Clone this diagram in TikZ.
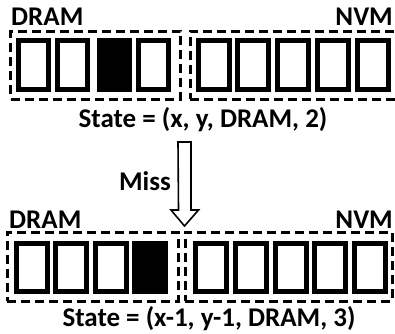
\documentclass[tikz,border=0pt]{standalone}
\usepackage{fontspec}
\setmainfont{Carlito}
\begin{document}
\begin{tikzpicture}[x=1pt,y=-1pt,
  cellbox/.style={draw=black,line width=5pt,minimum width=30pt,minimum height=49pt,inner sep=0pt,fill=white},
  fullcell/.style={cellbox,fill=black},
  membox/.style={draw=black,line width=3pt,dash pattern=on 9pt off 5pt,inner sep=0pt},
  lbl/.style={font=\bfseries\fontsize{27}{32}\selectfont,inner sep=0pt},
  hollowarrow/.style={draw=black,line width=1.6pt,fill=white,line join=miter}]
\useasboundingbox (0,0) rectangle (395,333);
% top panel
\node[membox,minimum width=170pt,minimum height=68pt] (tdram) at (95.5,65) {};
\node[membox,minimum width=215pt,minimum height=68pt] (tnvm) at (297.5,65) {};
\node[cellbox] (td1) at (33,65) {};
\node[cellbox] (td2) at (72.5,65) {};
\node[fullcell] (td3) at (114,65) {};
\node[cellbox] (td4) at (153.5,65) {};
\node[cellbox,minimum width=31pt] (tn1) at (214,65) {};
\node[cellbox,minimum width=31pt] (tn2) at (253,65) {};
\node[cellbox,minimum width=31pt] (tn3) at (293,65) {};
\node[cellbox,minimum width=31pt] (tn4) at (333,65) {};
\node[cellbox,minimum width=31pt] (tn5) at (373,65) {};
\node[lbl,anchor=base west] (tdl) at (11,25) {DRAM};
\node[lbl,anchor=base east] (tnl) at (393,25) {NVM};
\node[lbl,anchor=base] (tstate) at (203,127) {State = (x, y, DRAM, 2)};
% arrow
\coordinate (atop) at (184.5,142);
\coordinate (atip) at (184.5,226);
\draw[hollowarrow] (atop) ++(-6.5,0) -- ++(13,0) -- ++(0,68) -- ++(7.5,0) -- (atip) -- ++(-13.5,-16) -- ++(7.5,0) -- cycle;
\node[lbl,anchor=base east] (miss) at (171,190) {Miss};
% bottom panel
\node[membox,minimum width=171pt,minimum height=69pt] (bdram) at (92.5,266.5) {};
\node[membox,minimum width=207pt,minimum height=69pt] (bnvm) at (288.5,266.5) {};
\node[cellbox,minimum width=31pt,minimum height=48pt] (bd1) at (32,267.5) {};
\node[cellbox,minimum width=31pt,minimum height=48pt] (bd2) at (71,267.5) {};
\node[cellbox,minimum width=31pt,minimum height=48pt] (bd3) at (111,267.5) {};
\node[fullcell,minimum width=31pt,minimum height=48pt] (bd4) at (150,267.5) {};
\node[cellbox,minimum width=31pt,minimum height=48pt] (bn1) at (211,267.5) {};
\node[cellbox,minimum width=31pt,minimum height=48pt] (bn2) at (250.5,267.5) {};
\node[cellbox,minimum width=31pt,minimum height=48pt] (bn3) at (290.5,267.5) {};
\node[cellbox,minimum width=31pt,minimum height=48pt] (bn4) at (330,267.5) {};
\node[cellbox,minimum width=31pt,minimum height=48pt] (bn5) at (369.5,267.5) {};
\node[lbl,anchor=base west] (bdl) at (9,228) {DRAM};
\node[lbl,anchor=base east] (bnl) at (393,228) {NVM};
\node[lbl,anchor=base] (bstate) at (209,326.5) {State = (x-1, y-1, DRAM, 3)};
\end{tikzpicture}
\end{document}
